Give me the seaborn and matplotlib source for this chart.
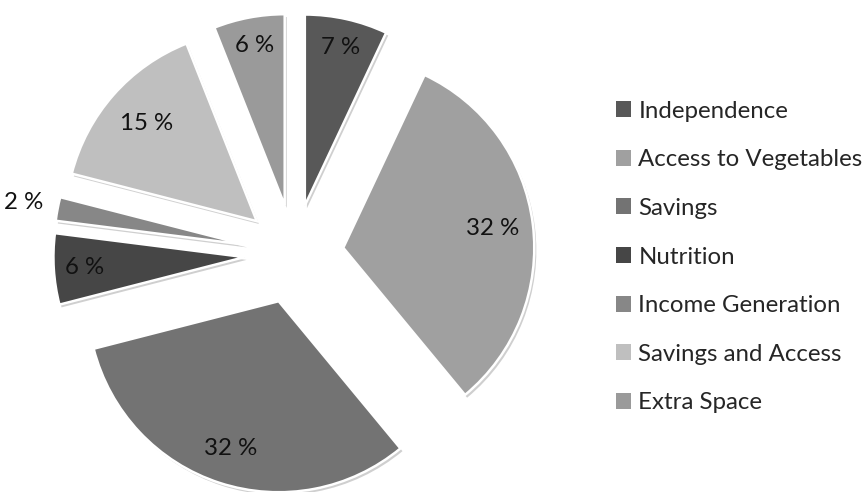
import matplotlib
matplotlib.use("Agg")
import matplotlib.pyplot as plt
import matplotlib.patheffects as pe
from matplotlib.patches import Patch
import numpy as np
import seaborn as sns

# Benefits of the garden programme, share of responses (%)
categories = ["Independence", "Access to Vegetables", "Savings", "Nutrition",
              "Income Generation", "Savings and Access", "Extra Space"]
shares = [7, 32, 32, 6, 2, 15, 6]
colors = ["#585858", "#a0a0a0", "#737373", "#464646",
          "#878787", "#bfbfbf", "#9a9a9a"]

sns.set_theme(style="white")
plt.rcParams["font.family"] = ["Lato", "DejaVu Sans"]

W, H, DPI = 867, 492, 100
fig = plt.figure(figsize=(W / DPI, H / DPI), dpi=DPI)
ax = fig.add_axes([0, 0, 1, 1])

# pixel geometry of the pie (radius in px, centre in px)
R = 191.0
cx, cy = 294.0, 254.0
explode = [0.26] * len(shares)

wedges, _ = ax.pie(
    shares, colors=colors, startangle=90, counterclock=False,
    explode=explode, radius=1.0,
    wedgeprops=dict(edgecolor="white", linewidth=1.8),
)
for w in wedges:
    w.set_path_effects([
        pe.SimplePatchShadow(offset=(1.5, -2), shadow_rgbFace="#777777", alpha=0.35),
        pe.Normal(),
    ])

# percentage labels
label_dist = [0.85, 0.79, 0.81, 0.84, 1.18, 0.77, 0.85]
for w, v, d in zip(wedges, shares, label_dist):
    mid = np.deg2rad((w.theta1 + w.theta2) / 2)
    x0, y0 = w.center
    ax.text(x0 + d * np.cos(mid), y0 + d * np.sin(mid), f"{v} %",
            ha="center", va="center", fontsize=17.3, color="#111111")

ax.set_xlim(-cx / R, (W - cx) / R)
ax.set_ylim(-(H - cy) / R, cy / R)
ax.set_aspect("auto")
ax.axis("off")

handles = [Patch(facecolor=c, edgecolor="none") for c in colors]
fig.legend(handles, categories, loc="upper left",
           bbox_to_anchor=(606 / W, 1 - 91 / H), frameon=False,
           fontsize=17.3, handlelength=0.65, handleheight=0.65,
           handletextpad=0.3, labelspacing=1.15, borderaxespad=0)

fig.savefig("out.png", dpi=DPI, facecolor="white")
